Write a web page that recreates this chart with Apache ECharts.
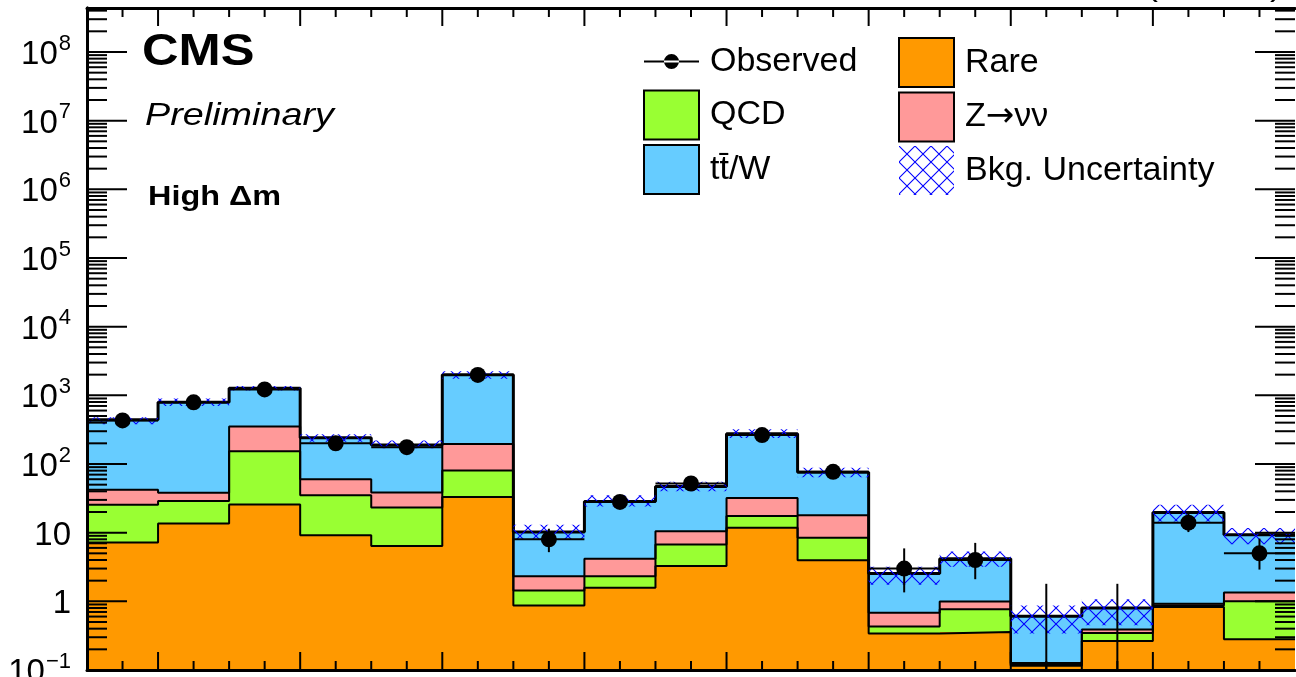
<!DOCTYPE html>
<html><head><meta charset="utf-8">
<script src="https://cdn.jsdelivr.net/npm/echarts@6/dist/echarts.min.js"></script>
<style>html,body{margin:0;padding:0;background:#fff;}#c{width:1296px;height:677px;}</style>
</head><body><div id="c"></div>
<script>
// ---- data (search bins of the High Δm region) ----
const binLabels = ['1','2','3','4','5','6','7','8','9','10','11','12','13','14','15','16','17'];
const rare   = [7.2, 13.6, 25.8, 9.2, 6.4, 33, 0.87, 1.58, 3.26, 11.8, 3.95, 0.34, 0.357, 0.115, 0.264, 0.83, 0.28];
const qcd    = [18.3, 15.2, 128, 25.8, 16.9, 47.5, 0.57, 0.73, 3.49, 5.7, 4.5, 0.09, 0.41, 0.005, 0.082, 0.04, 0.72];
const znunu  = [16.5, 9.2, 198, 25, 15.3, 114.5, 0.87, 1.87, 3.75, 14.4, 9.45, 0.25, 0.23, 0.006, 0.044, 0.055, 0.34];
const ttw    = [400, 757, 921, 181, 151, 1800, 7.9, 24.3, 36.5, 244, 58, 1.87, 3.18, 0.48, 0.41, 18.8, 7.96];
const observed = [431, 790, 1218, 200, 176, 1980, 8, 28, 52, 264, 77, 3, 4, 0, 0, 14, 5];
const obsLow   = [410, 762, 1183, 186, 163, 1936, 5.2, 23, 45, 248, 68, 1.35, 2.1, 0, 0, 10.2, 2.9];
const obsHigh  = [452, 818, 1253, 214, 189, 2024, 11.4, 34, 60, 280, 86, 5.9, 7.1, 1.8, 1.8, 18.8, 8.2];
const bandLow  = [380, 700, 1180, 210, 170, 1750, 8, 24, 40, 240, 64, 1.75, 3.2, 0.34, 0.45, 14.5, 6.8];
const bandHigh = [480, 900, 1370, 270, 220, 2250, 13, 35, 55, 320, 88, 3.2, 5.3, 0.87, 1.07, 25.5, 11.7];
const yTickLabels = ['10^\u22121', '1', '10', '10^2', '10^3', '10^4', '10^5', '10^6', '10^7', '10^8'];
const legendLeft  = ['Observed', 'QCD', 't\u0074\u0304/W'];
const legendRight = ['Rare', 'Z\u2192\u03bd\u03bd', 'Bkg. Uncertainty'];

const Y_MIN = 0.1, Y_MAX = 4.37e8;
const N = rare.length;
const FONT = '"Liberation Sans", Arial, Helvetica, sans-serif';

const cumRare = rare.slice();
const cumQcd = cumRare.map((v, i) => v + qcd[i]);
const cumZ = cumQcd.map((v, i) => v + znunu[i]);
const cumTot = cumZ.map((v, i) => v + ttw[i]);

function makeHatch() {
  const s = 16;
  const c = document.createElement('canvas');
  c.width = s; c.height = s;
  const g = c.getContext('2d');
  g.strokeStyle = '#0000ff'; g.lineWidth = 1.1;
  g.beginPath();
  g.moveTo(0, 0); g.lineTo(s, s);
  g.moveTo(s, 0); g.lineTo(0, s);
  g.stroke();
  return c;
}
const hatch = { image: makeHatch(), repeat: 'repeat' };

function fillSeries(name, lower, upper, color, z) {
  return {
    type: 'custom', name: name, z: z || 2, clip: true, silent: true,
    itemStyle: { color: color, borderColor: '#000', borderWidth: 2 },
    data: upper.map((u, i) => [i, lower ? lower[i] : Y_MIN, u]),
    encode: { x: 0, y: [1, 2] },
    renderItem: function (params, api) {
      const i = api.value(0);
      const p0 = api.coord([i, api.value(1)]);
      const p1 = api.coord([i + 1, api.value(2)]);
      const x0 = Math.round(p0[0]), x1 = Math.round(p1[0]);
      return { type: 'rect', shape: { x: x0, y: p1[1], width: x1 - x0, height: p0[1] - p1[1] },
               style: { fill: color } };
    }
  };
}

function outline(top, width) {
  const d = top.map((v, i) => [i, v]);
  d.push([N, top[N - 1]]);
  return { type: 'line', step: 'end', data: d, symbol: 'none', silent: true, z: 3,
           lineStyle: { color: '#000', width: width } };
}

// tick marks (ROOT style: both sides)
const tickData = [];
for (let k = 1; k < 2 * N; k++) {
  const pos = k / 2;
  const major = (k % 4 === 2);
  tickData.push([pos, 1, major ? 18 : 9, 0]);
}
for (let e = -1; e <= 8; e++) {
  for (let m = 1; m <= 9; m++) {
    const v = m * Math.pow(10, e);
    if (v < Y_MIN * 1.0001 || v > Y_MAX) continue;
    tickData.push([0, v, m === 1 ? 40 : 20, 1]);
  }
}

function yLabel(v) {
  const e = Math.log10(v);
  const r = Math.round(e);
  if (Math.abs(e - r) > 1e-6) return '';
  const s = yTickLabels[r + 1];
  if (!s) return '';
  const parts = s.split('^');
  return parts.length > 1 ? '{b|' + parts[0] + '}{s|' + parts[1] + '}' : '{b|' + parts[0] + '}';
}

function legendFmt(name) {
  if (name.indexOf('\u2192') >= 0) {
    const p = name.split('\u2192');
    return p[0] + '{a|\u2192}' + p[1];
  }
  return name;
}

const axisLine = { show: true, lineStyle: { color: '#000', width: 3 } };
const xAxisBase = { type: 'value', min: 0, max: N, axisLine: axisLine, axisTick: { show: false },
                    axisLabel: { show: false }, splitLine: { show: false }, z: 10 };
const yAxisBase = { type: 'log', logBase: 10, min: Y_MIN, max: Y_MAX, splitNumber: 10,
                    axisLine: axisLine, axisTick: { show: false }, splitLine: { show: false }, z: 10 };

const legendText = { fontSize: 34, fontFamily: FONT, color: '#000', padding: [0, 0, 0, 6],
                     rich: { a: { fontSize: 34, fontFamily: '"DejaVu Sans", sans-serif', color: '#000' } } };
const obsIcon = 'path://M0 0 L0.01 0 L0 0.01 Z M55 49 L54.99 49 L55 48.99 Z M0 23.5 L55 23.5 L55 25.5 L0 25.5 Z M20 24.5 A7.5 7.5 0 1 0 35 24.5 A7.5 7.5 0 1 0 20 24.5 Z';

const chart = echarts.init(document.getElementById('c'), null, { renderer: 'canvas' });
chart.setOption({
  animation: false,
  backgroundColor: '#fff',
  grid: { left: 87, right: 1, top: 8, bottom: 7, containLabel: false, outerBoundsMode: 'none' },
  xAxis: [Object.assign({}, xAxisBase, { position: 'bottom' }),
          Object.assign({}, xAxisBase, { position: 'top' })],
  yAxis: [Object.assign({}, yAxisBase, {
            position: 'left',
            axisLabel: {
              show: true, margin: 16, formatter: yLabel, hideOverlap: false,
              rich: {
                b: { fontSize: 33, fontFamily: FONT, color: '#000', padding: [6, 0, 0, 0] },
                s: { fontSize: 22, fontFamily: FONT, color: '#000', verticalAlign: 'top', padding: [0, 0, 0, 1] }
              }
            } }),
          Object.assign({}, yAxisBase, { position: 'right', axisLabel: { show: false } })],
  legend: [
    { orient: 'vertical', left: 643, top: 37, padding: 0, itemWidth: 55, itemHeight: 49, itemGap: 3.5,
      symbolKeepAspect: true, selectedMode: false, formatter: legendFmt, textStyle: legendText,
      data: [
        { name: legendLeft[0], icon: obsIcon, itemStyle: { color: '#000', borderWidth: 0 } },
        { name: legendLeft[1], icon: 'rect', itemStyle: { borderColor: '#000', borderWidth: 2 } },
        { name: legendLeft[2], icon: 'rect', itemStyle: { borderColor: '#000', borderWidth: 2 } }
      ] },
    { orient: 'vertical', left: 898, top: 37, padding: 0, itemWidth: 55, itemHeight: 49, itemGap: 3.5,
      symbolKeepAspect: true, selectedMode: false, formatter: legendFmt, textStyle: legendText,
      data: [
        { name: legendRight[0], icon: 'rect', itemStyle: { borderColor: '#000', borderWidth: 2 } },
        { name: legendRight[1], icon: 'rect', itemStyle: { borderColor: '#000', borderWidth: 2 } },
        { name: legendRight[2], icon: 'rect', itemStyle: { borderWidth: 0 } }
      ] }
  ],
  graphic: [
    { type: 'text', x: 142, y: 53, scaleX: 1.15, z: 100,
      style: { text: 'CMS', font: 'bold 44px ' + FONT, fill: '#000', align: 'left', verticalAlign: 'middle',
               textAlign: 'left', textVerticalAlign: 'middle' } },
    { type: 'text', x: 145, y: 116.5, scaleX: 1.18, z: 100,
      style: { text: 'Preliminary', font: 'italic 32px ' + FONT, fill: '#000', align: 'left', verticalAlign: 'middle',
               textAlign: 'left', textVerticalAlign: 'middle' } },
    { type: 'text', x: 148, y: 197.5, scaleX: 1.2, z: 100,
      style: { text: 'High \u0394m', font: 'bold 27px ' + FONT, fill: '#000', align: 'left', verticalAlign: 'middle',
               textAlign: 'left', textVerticalAlign: 'middle' } },
    { type: 'text', x: 1282, y: 3, scaleX: 1.2, z: 100,
      style: { text: '35.9 fb\u207B\u00B9 (13 TeV)', font: '30px ' + FONT, fill: '#000', align: 'right', verticalAlign: 'bottom',
               textAlign: 'right', textVerticalAlign: 'bottom' } }
  ],
  series: [
    fillSeries(legendLeft[2], cumZ, cumTot, '#66ccff', 2),
    fillSeries(legendRight[1], cumQcd, cumZ, '#ff9999', 2),
    fillSeries(legendLeft[1], cumRare, cumQcd, '#99ff33', 2),
    fillSeries(legendRight[0], null, cumRare, '#ff9900', 2),
    outline(cumRare, 2),
    outline(cumQcd, 2),
    outline(cumZ, 2),
    outline(cumTot, 3),
    {
      type: 'custom', name: legendRight[2], z: 4, clip: true, silent: true,
      itemStyle: { color: hatch },
      data: bandLow.map((v, i) => [i, v, bandHigh[i]]),
      encode: { x: 0, y: [1, 2] },
      renderItem: function (params, api) {
        const i = api.value(0);
        const p0 = api.coord([i, api.value(1)]);
        const p1 = api.coord([i + 1, api.value(2)]);
        return { type: 'rect', shape: { x: p0[0], y: p1[1], width: p1[0] - p0[0], height: p0[1] - p1[1] },
                 style: { fill: hatch } };
      }
    },
    {
      type: 'custom', z: 5, clip: true, silent: true,
      data: observed.map((v, i) => [i, v, obsLow[i], obsHigh[i]]),
      encode: { x: 0, y: 3 },
      renderItem: function (params, api) {
        const i = api.value(0), v = api.value(1);
        const lo = Math.max(api.value(2), Y_MIN), hi = api.value(3);
        const a = api.coord([i + 0.5, lo]), b = api.coord([i + 0.5, hi]);
        const st = { stroke: '#000', lineWidth: 2 };
        const ch = [{ type: 'line', shape: { x1: a[0], y1: a[1], x2: b[0], y2: b[1] }, style: st }];
        if (v > 0) {
          const l = api.coord([i, v]), r = api.coord([i + 1, v]);
          ch.push({ type: 'line', shape: { x1: l[0], y1: l[1], x2: r[0], y2: r[1] }, style: st });
        }
        return { type: 'group', children: ch };
      }
    },
    {
      type: 'scatter', name: legendLeft[0], z: 6, silent: true,
      symbol: 'circle', symbolSize: 16,
      itemStyle: { color: '#000', opacity: 1 },
      data: observed.map((v, i) => [i + 0.5, v]).filter(d => d[1] > 0)
    },
    {
      type: 'custom', z: 7, clip: false, silent: true,
      data: tickData,
      encode: { x: 0, y: 1 },
      renderItem: function (params, api) {
        const pos = api.value(0), v = api.value(1), len = api.value(2), kind = api.value(3);
        const st = { stroke: '#000', lineWidth: 2 };
        if (kind === 0) {
          const b = api.coord([pos, Y_MIN]), t = api.coord([pos, Y_MAX]);
          return { type: 'group', children: [
            { type: 'line', shape: { x1: b[0], y1: b[1], x2: b[0], y2: b[1] - len }, style: st },
            { type: 'line', shape: { x1: t[0], y1: t[1], x2: t[0], y2: t[1] + len }, style: st } ] };
        }
        const l = api.coord([0, v]), r = api.coord([N, v]);
        return { type: 'group', children: [
          { type: 'line', shape: { x1: l[0], y1: l[1], x2: l[0] + len, y2: l[1] }, style: st },
          { type: 'line', shape: { x1: r[0], y1: r[1], x2: r[0] - len, y2: r[1] }, style: st } ] };
      }
    }
  ]
});
</script>
</body></html>
